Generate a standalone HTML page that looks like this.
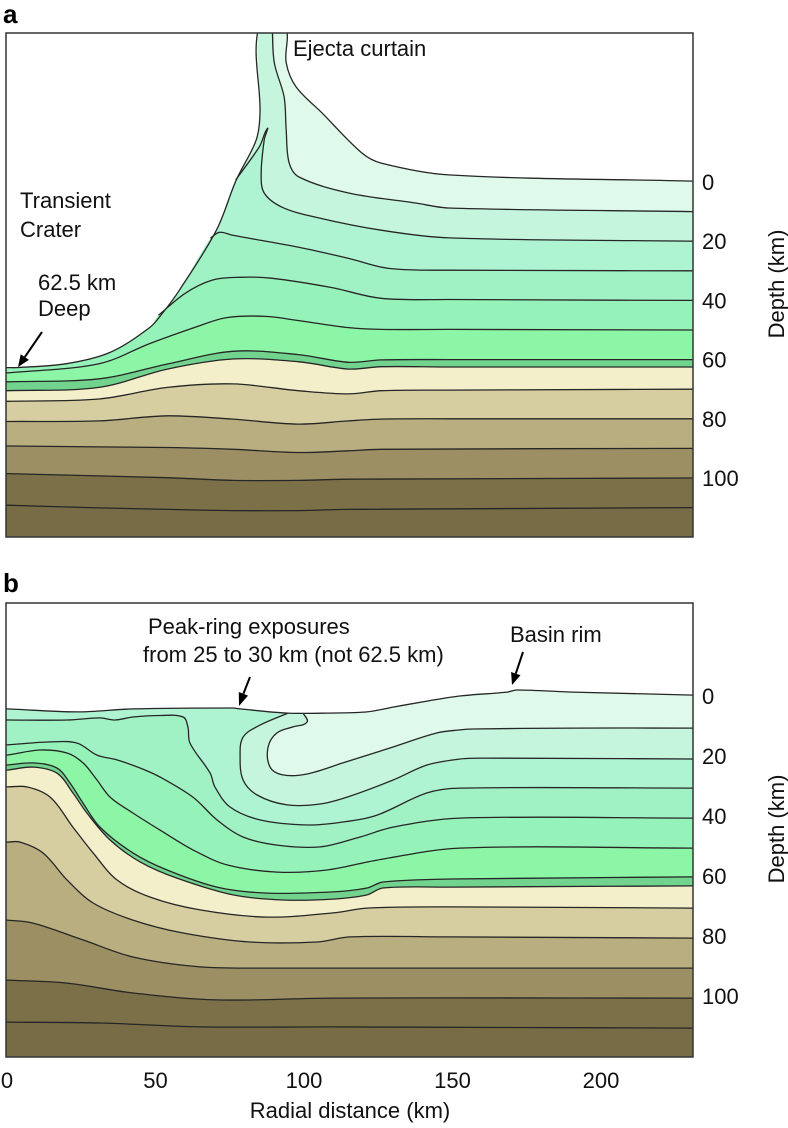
<!DOCTYPE html>
<html><head><meta charset="utf-8"><style>
html,body{margin:0;padding:0;background:#fff;}
svg{display:block;font-family:"Liberation Sans",Arial,sans-serif;}
</style></head><body>
<svg id="fig" width="788" height="1128" viewBox="0 0 788 1128" xmlns="http://www.w3.org/2000/svg">
<defs>
<clipPath id="clipA"><rect x="6" y="33" width="687" height="504"/></clipPath>
<clipPath id="clipB"><rect x="6" y="603" width="687" height="454"/></clipPath>
</defs>
<g id="panelA"><g id="layersA" clip-path="url(#clipA)"></g></g>
<g id="panelB"><g id="layersB" clip-path="url(#clipB)"></g></g>
<rect x="6" y="33" width="687" height="504" fill="none" stroke="#333" stroke-width="1.5"/>
<rect x="6" y="603" width="687" height="454" fill="none" stroke="#333" stroke-width="1.5"/>
<text x="3" y="23" font-size="26" font-weight="bold">a</text>
<text x="3" y="592" font-size="26" font-weight="bold">b</text>
<text x="293" y="56" font-size="22" fill="#111">Ejecta curtain</text>
<text x="20" y="208" font-size="22" fill="#111">Transient</text>
<text x="20" y="237" font-size="22" fill="#111">Crater</text>
<text x="38" y="290" font-size="22" fill="#111">62.5 km</text>
<text x="38" y="316" font-size="22" fill="#111">Deep</text>
<g><line x1="42" y1="332" x2="24.8" y2="357.1" stroke="#000" stroke-width="2"/><polygon points="18,367 28.9,359.9 20.7,354.3" fill="#000"/></g>
<text x="148" y="634" font-size="22" fill="#111">Peak-ring exposures</text>
<text x="143" y="662" font-size="22" fill="#111">from 25 to 30 km (not 62.5 km)</text>
<g><line x1="250" y1="677" x2="243.4" y2="693.8" stroke="#000" stroke-width="2"/><polygon points="239,706 248,695.6 238.8,692" fill="#000"/></g>
<text x="510" y="642" font-size="22" fill="#111">Basin rim</text>
<g><line x1="523" y1="652" x2="515.8" y2="673.6" stroke="#000" stroke-width="2"/><polygon points="512,685 520.5,675.2 511.1,672" fill="#000"/></g>
<g id="axes"></g>
<text transform="translate(784,284) rotate(-90)" text-anchor="middle" font-size="22" fill="#111">Depth (km)</text>
<text transform="translate(784,829) rotate(-90)" text-anchor="middle" font-size="22" fill="#111">Depth (km)</text>
<text x="350" y="1118" text-anchor="middle" font-size="22" fill="#111">Radial distance (km)</text>
</svg>
<script>
// ---------- data (km, depth km) ----------
const depthTicks = [0, 20, 40, 60, 80, 100];
const distTicks = [0, 50, 100, 150, 200];
const layerColors = ["#dffaeb","#c5f6dd","#aef3d2","#a0f2c5","#95f2b8","#8cf5a6","#72d38f","#f4efcb","#d6cea1","#b9ae80","#9b8f63","#7b7048","#776c45"];

const surfaceA = [[0,62.7],[3.4,62.7],[20,61.4],[34.6,57.6],[48,49.2],[52.3,44.4],[58,36.6],[70.5,16.3],[77.2,-0.7],[83.9,-14.2],[85.2,-23.4],[84.9,-53],[93.3,-53],[94,-40.3],[97.3,-32.2],[106,-23.4],[119.5,-9.8],[126,-6.4],[148.7,-2.4],[231,-0.3]];
const a10 = [[89.3,-53],[90,-40.3],[93.3,-28.8],[94,-17.6],[95,-6.4],[98.3,-1.7],[115,3.7],[137.6,7.1],[148.7,8.8],[231,10]];
const a20 = [[77,-0.7],[85,-12],[87.6,-18],[86.6,-14.2],[85.6,-3],[86.6,3.7],[92.6,8.5],[104,11.9],[126,16.3],[149,18.9],[231,20]];
const a30 = [[68.5,19],[71.5,17],[76,18],[98,22],[115,25.8],[128.5,29.2],[149,29.8],[231,30]];
const a40 = [[51,45],[60,37.6],[69,33.2],[78,32.2],[89,32.5],[109,35.6],[126,39.3],[149,39.7],[231,40]];
const a50 = [[0,64.5],[31,61.4],[48,54.6],[63,49.2],[74,45.8],[87,45.4],[98,46.8],[115,49.2],[126,49.8],[149,49.8],[231,50]];
const a60 = [[0,67.5],[31,66.5],[54,61.5],[76,57.2],[98,58.3],[115,60.9],[126,60.1],[149,60],[231,60]];
const a62 = [[0,70.5],[31,69.4],[54,63.2],[76,59.8],[98,60.7],[115,63.2],[126,62.4],[149,62.5],[231,62.5]];
const a70 = [[0,74.1],[31,73.3],[54,69.4],[76,68.2],[98,70.5],[115,71.6],[126,70.5],[149,70.3],[231,70]];
const a80 = [[0,80.9],[31,80.7],[54,79],[76,80.1],[98,81.8],[115,80.7],[126,80.1],[149,80],[231,80]];
const a90 = [[0,89.2],[31,89.5],[54,89.7],[76,90.3],[98,91.4],[115,90.8],[126,90.3],[231,90]];
const a100 = [[0,98.5],[31,99.3],[54,99.9],[76,100.8],[98,100.8],[115,100.4],[231,100]];
const a110 = [[0,109.2],[31,110.1],[54,110.6],[76,111],[98,111],[115,110.6],[231,110]];

const surfaceB = [[0,4.3],[23.6,5.3],[42.4,4.3],[76,4],[78.5,4.3],[94.3,5.7],[107.7,5.7],[121.2,5.3],[130,3.7],[141.4,1.7],[152.5,0],[168.4,-1.3],[171.7,-2],[190.6,-1.3],[231,-0.3]];
const b10 = [[99.7,5.7],[101,8.7],[96.3,10.3],[90.9,12.3],[87.9,17],[88.6,23.7],[92.9,26.3],[101,26],[113.1,22.3],[130,17],[144.8,12.3],[152.5,11.3],[156.9,11],[190.6,10.7],[231,10.7]];
const b20 = [[94.6,5.7],[85.2,9.7],[79.5,13.7],[78.5,20.3],[79.5,28],[84.2,33],[94.3,36.3],[105.4,36],[114.5,33.7],[130,28],[141.4,23],[152.5,21],[160.3,20.7],[231,21]];
const b30 = [[0,8],[20.2,8],[31.3,7.3],[36.4,8],[42.4,7],[51.5,6.5],[59.3,7],[60.9,10.3],[61.6,15.7],[68.4,25.7],[70,30.3],[75.1,37],[85.2,41.3],[101,43],[113.1,42],[124.6,39.7],[141.4,32.3],[152.5,30.7],[231,30.7]];
const b40 = [[0,16.3],[14.5,15.3],[23.6,15.7],[30.3,19.7],[37,21.3],[44.8,24],[51.5,27],[62.6,33.7],[70.7,41.3],[79.5,47],[90.9,49.7],[105.4,50.3],[118.9,47],[130,43.7],[152.5,40.7],[231,40.7]];
const b50 = [[0,19.7],[11.1,18],[20.2,19],[25.6,22.3],[30.3,28],[34.7,33.7],[42.4,39],[51.5,44.7],[62.6,51.3],[74.1,56.3],[90.9,58.7],[107.7,58],[124.6,54.7],[152.5,50.7],[231,50.7]];
const b60 = [[0,23],[8.8,22.3],[16.8,24],[21.2,29],[25.6,35.7],[31.3,43.7],[42.4,52.3],[53.9,58],[70.7,63.7],[87.5,65.7],[109.8,65.3],[121.2,64],[126.6,62],[149.2,61],[231,60.3]];
const b62 = [[0,24.7],[8.8,23.7],[16.8,25.7],[22.2,32.3],[26.9,39],[34.7,48],[44.8,55.3],[57.2,60.7],[76.1,66.3],[92.9,68],[109.8,67.7],[121.2,66.3],[126.6,64],[149.2,63.7],[231,63.3]];
const b70 = [[0,30.3],[6.7,30.3],[14.5,33.7],[22.2,43.7],[29,52.3],[37,61.3],[48.1,67],[65,71.3],[87.5,73.7],[109.8,72.3],[121.2,70.7],[149.2,70.3],[231,70.7]];
const b80 = [[0,48.7],[4.4,48.7],[12.1,52.3],[20.2,61.3],[29,69],[42.4,74.7],[59.3,79],[81.8,82],[104.4,82],[115.5,80.3],[149.2,80.3],[231,80.7]];
const b90 = [[0,74.7],[8.8,75.7],[25.6,81.3],[42.4,87],[65,90.3],[87.5,90.7],[231,90.7]];
const b100 = [[0,94.7],[20.2,95.7],[42.4,99],[70.7,101.3],[109.8,100.7],[231,100.7]];
const b110 = [[0,108.7],[31.3,109],[65,110.3],[109.8,110.3],[231,110.7]];

// ---------- scales ----------
const NS = "http://www.w3.org/2000/svg";
const xScale = km => 7 + 2.97 * km;
const panelA = {y0: 182, ky: 2.96, bottom: 560, g: "layersA", tag: "a"};
const panelB = {y0: 696, ky: 3.0, bottom: 1080, g: "layersB", tag: "b"};

function smooth(pts) {
  const n = pts.length;
  const tan = pts.map((p, i) => {
    const a = pts[Math.max(0, i - 1)], b = pts[Math.min(n - 1, i + 1)];
    let dx = b[0] - a[0], dy = b[1] - a[1];
    const L = Math.hypot(dx, dy) || 1;
    return [dx / L, dy / L];
  });
  let d = "M" + pts[0][0].toFixed(1) + "," + pts[0][1].toFixed(1);
  for (let i = 0; i < n - 1; i++) {
    const p1 = pts[i], p2 = pts[i + 1];
    const s = Math.hypot(p2[0] - p1[0], p2[1] - p1[1]) / 3;
    const c1 = [p1[0] + tan[i][0] * s, p1[1] + tan[i][1] * s];
    const c2 = [p2[0] - tan[i + 1][0] * s, p2[1] - tan[i + 1][1] * s];
    d += "C" + c1[0].toFixed(1) + "," + c1[1].toFixed(1) + " " + c2[0].toFixed(1) + "," + c2[1].toFixed(1) + " " + p2[0].toFixed(1) + "," + p2[1].toFixed(1);
  }
  return d;
}

function drawPanel(P, bounds) {
  const g = document.getElementById(P.g);
  const toPx = p => [xScale(p[0]), P.y0 + P.ky * p[1]];
  const surface = bounds[0];
  bounds.forEach((b, i) => {
    let pts = [];
    if (i > 0 && b[0][0] > 0) {
      for (const s of surface) { if (s[0] < b[0][0]) pts.push(s); else break; }
    }
    pts = pts.concat(b).map(toPx);
    pts.unshift([0, pts[0][1]]);
    pts.push([700, pts[pts.length - 1][1]]);
    const fill = document.createElementNS(NS, "path");
    fill.setAttribute("d", smooth(pts) + "L700," + P.bottom + "L0," + P.bottom + "Z");
    fill.setAttribute("fill", layerColors[i]);
    
    
    g.appendChild(fill);
  });
  bounds.forEach((b, i) => {
    const pts = b.map(toPx);
    if (pts[0][0] <= 7.5) pts.unshift([0, pts[0][1]]);
    pts.push([700, pts[pts.length - 1][1]]);
    const ln = document.createElementNS(NS, "path");
    ln.setAttribute("d", smooth(pts));
    ln.setAttribute("fill", "none");
    ln.setAttribute("stroke", "#262626");
    ln.setAttribute("stroke-width", "1.3");
    
    
    g.appendChild(ln);
  });
}
drawPanel(panelA, [surfaceA, a10, a20, a30, a40, a50, a60, a62, a70, a80, a90, a100, a110]);
drawPanel(panelB, [surfaceB, b10, b20, b30, b40, b50, b60, b62, b70, b80, b90, b100, b110]);

// ---------- axes ----------
const ax = document.getElementById("axes");
[panelA, panelB].forEach(P => {
  depthTicks.forEach(v => {
    const t = document.createElementNS(NS, "text");
    t.setAttribute("x", 702);
    t.setAttribute("y", P.y0 + P.ky * v + 8);
    t.setAttribute("font-size", "22");
    t.setAttribute("fill", "#111");
    t.textContent = v;
    
    
    ax.appendChild(t);
  });
});
distTicks.forEach(v => {
  const t = document.createElementNS(NS, "text");
  t.setAttribute("x", xScale(v));
  t.setAttribute("y", 1088);
  t.setAttribute("font-size", "22");
  t.setAttribute("text-anchor", "middle");
  t.setAttribute("fill", "#111");
  t.textContent = v;
  
  
  ax.appendChild(t);
});
</script>
</body></html>
